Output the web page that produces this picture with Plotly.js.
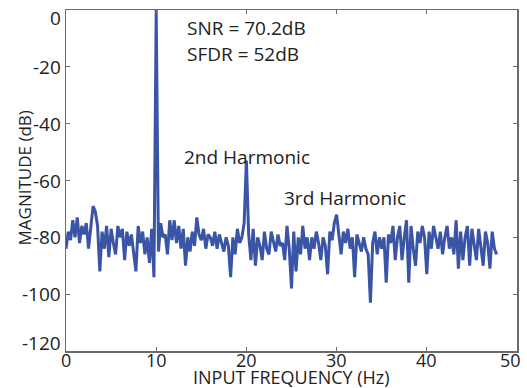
<!DOCTYPE html>
<html>
<head>
<meta charset="utf-8">
<script src="https://cdn.plot.ly/plotly-3.0.1.min.js"></script>
<style>html,body{margin:0;padding:0;background:#fff;}#chart{width:527px;height:388px;}</style>
</head>
<body>
<div id="chart"></div>
<script>
// Frequency step (Hz) of the spectrum samples
var freqStep = 0.25;
// Magnitude (dB), one value per 0.25 Hz from 0 Hz
var magnitude = [
  -84, -78, -81, -74,
  -80, -73, -82, -76,
  -79, -75, -84, -77,
  -69, -71, -76, -92,
  -78, -84, -76, -87,
  -77, -82, -86, -76,
  -80, -77, -88, -78,
  -83, -79, -85, -92,
  -76, -82, -78, -86,
  -80, -89, -77, -94,
  0, -85, -75, -80,
  -79, -86, -74, -81,
  -74, -82, -76, -84,
  -77, -90, -80, -85,
  -78, -83, -73, -79,
  -81, -77, -84, -79,
  -80, -83, -78, -84,
  -79, -82, -85, -80,
  -83, -94, -80, -86,
  -77, -82, -80, -75,
  -53, -79, -88, -77,
  -90, -80, -83, -88,
  -78, -84, -86, -78,
  -82, -85, -79, -83,
  -82, -88, -76, -84,
  -98, -78, -92, -80,
  -86, -76, -84, -80,
  -88, -80, -84, -78,
  -82, -88, -80, -83,
  -93, -78, -81, -75,
  -72, -80, -86, -78,
  -82, -77, -84, -80,
  -94, -79, -82, -85,
  -80, -84, -86, -103,
  -82, -78, -86, -80,
  -84, -80, -96, -79,
  -82, -76, -88, -80,
  -76, -88, -80, -74,
  -96, -76, -84, -90,
  -78, -82, -76, -80,
  -93, -78, -84, -76,
  -80, -84, -78, -86,
  -80, -76, -84, -80,
  -86, -74, -91, -78,
  -88, -80, -76, -90,
  -77, -82, -88, -77,
  -84, -90, -78, -82,
  -91, -78, -84, -86
];
var frequency = magnitude.map(function (_, i) { return i * freqStep; });

var xTicks = [0, 10, 20, 30, 40, 50];
var yTicks = [0, -20, -40, -60, -80, -100, -120];

var annText = ["SNR = 70.2dB", "SFDR = 52dB", "2nd Harmonic", "3rd Harmonic"];
var annX = [13.2, 13.2, 12.9, 24.0];
var annY = [-6.3, -15.5, -51.7, -66.2];

var xTitle = "INPUT FREQUENCY (Hz)";
var yTitle = "MAGNITUDE (dB)";

var font = "Open Sans, Lato, sans-serif";
var textColor = "#222";
var axisCommon = {
  showline: true, linecolor: "#6b6b6b", linewidth: 1.5, mirror: "ticks",
  ticks: "inside", ticklen: 4, tickwidth: 1, tickcolor: "#6b6b6b",
  showgrid: false, zeroline: false, showticklabels: false
};

var trace = {
  x: frequency, y: magnitude, type: "scatter", mode: "lines",
  line: {color: "#3b55a6", width: 3}, hoverinfo: "skip"
};

var annotations = annText.map(function (t, i) {
  return {text: t, x: annX[i], y: annY[i], xref: "x", yref: "y",
    xanchor: "left", yanchor: "middle", showarrow: false,
    font: {family: font, size: 19, color: textColor}};
});

// y tick labels next to the axis; edge labels nudged inward
yTicks.forEach(function (v, i) {
  var shift = 0;
  if (i === 0) shift = -8;
  if (i === yTicks.length - 1) shift = 8;
  annotations.push({text: String(v), x: 0, y: v, xref: "paper", yref: "y",
    xanchor: "right", yanchor: "middle", xshift: -3, yshift: shift, showarrow: false,
    font: {family: font, size: 19, color: textColor}});
});

// x tick labels under the axis; last label nudged inward
xTicks.forEach(function (v, i) {
  var shift = (i === xTicks.length - 1) ? -7 : 0;
  annotations.push({text: String(v), x: v, y: 0, xref: "x", yref: "paper",
    xanchor: "center", yanchor: "middle", xshift: shift, yshift: -9, showarrow: false,
    font: {family: font, size: 18, color: textColor}});
});

annotations.push({text: xTitle, x: 0.5, y: 0, xref: "paper", yref: "paper",
  xanchor: "center", yanchor: "middle", yshift: -26, showarrow: false,
  font: {family: font, size: 18, color: textColor}});
annotations.push({text: yTitle, x: 0, y: 0.5, xref: "paper", yref: "paper",
  xanchor: "center", yanchor: "middle", xshift: -42, yshift: 2, textangle: -90, showarrow: false,
  font: {family: font, size: 17, color: textColor}});

var layout = {
  width: 527, height: 388,
  margin: {l: 66, r: 10, t: 10, b: 37},
  paper_bgcolor: "#fff", plot_bgcolor: "#fff",
  showlegend: false,
  xaxis: Object.assign({}, axisCommon, {range: [0, 50], tickvals: xTicks}),
  yaxis: Object.assign({}, axisCommon, {range: [-120, 0], tickvals: yTicks}),
  annotations: annotations
};

Plotly.newPlot("chart", [trace], layout, {staticPlot: true, displayModeBar: false});
</script>
</body>
</html>
